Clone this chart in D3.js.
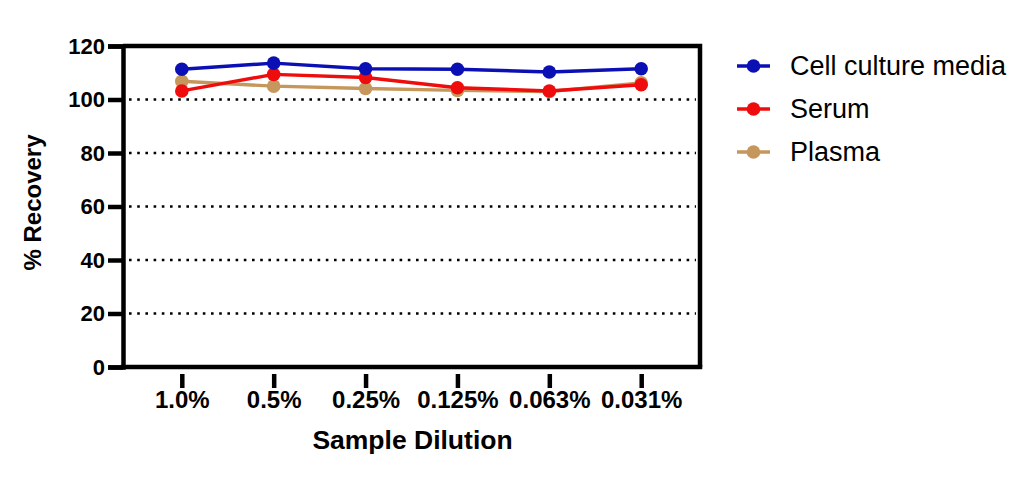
<!DOCTYPE html>
<html lang="en">
  <head>
    <meta charset="UTF-8" />
    <title>% Recovery by Sample Dilution</title>
    <script src="https://d3js.org/d3.v7.min.js"></script>
    <style>
      html,
      body {
        margin: 0;
        padding: 0;
        background-color: #ffffff;
        font-family: "Liberation Sans", Arial, sans-serif;
      }
      .tick-label {
        font-family: "Liberation Sans", Arial, sans-serif;
        font-weight: bold;
        fill: #000;
      }
      .y-label {
        font-size: 22px;
      }
      .x-label {
        font-size: 24px;
      }
      .axis-title {
        font-family: "Liberation Sans", Arial, sans-serif;
        font-weight: bold;
        fill: #000;
      }
      .legend-item text {
        font-family: "Liberation Sans", Arial, sans-serif;
        font-size: 27px;
        fill: #000;
      }
    </style>
  </head>
  <body>
    <svg id="chart"></svg>

    <script>
      // Chart data
      const dilutions = ["1.0%", "0.5%", "0.25%", "0.125%", "0.063%", "0.031%"];
      const cellCultureMedia = [111.3, 113.6, 111.5, 111.3, 110.3, 111.5];
      const serum = [103.2, 109.4, 108.2, 104.4, 103.2, 105.5];
      const plasma = [106.8, 105.0, 104.1, 103.4, 103.0, 106.2];
      const yTicks = [0, 20, 40, 60, 80, 100, 120];

      const seriesNames = ["Cell culture media", "Serum", "Plasma"];
      const seriesValues = [cellCultureMedia, serum, plasma];
      const colors = ["#0b10b5", "#ee0c0c", "#c6975c"];

      // Dimensions
      const totalWidth = 1031;
      const totalHeight = 480;
      const margin = { top: 46, right: 331, bottom: 113, left: 123 };
      const width = totalWidth - margin.left - margin.right;
      const height = totalHeight - margin.top - margin.bottom;

      const svgRoot = d3
        .select("#chart")
        .attr("width", totalWidth)
        .attr("height", totalHeight);

      const svg = svgRoot
        .append("g")
        .attr("transform", `translate(${margin.left},${margin.top})`);

      // Scales
      const xScale = d3.scalePoint().domain(dilutions).range([0, width]).padding(0.64);
      const yScale = d3.scaleLinear().domain([0, 120]).range([height, 0]);

      // Dotted grid lines
      svg
        .append("g")
        .selectAll("line")
        .data(yTicks.filter((d) => d > 0 && d < 120))
        .enter()
        .append("line")
        .attr("x1", 6)
        .attr("x2", width - 4)
        .attr("y1", (d) => yScale(d))
        .attr("y2", (d) => yScale(d))
        .attr("stroke", "#000")
        .attr("stroke-width", 2.6)
        .attr("stroke-dasharray", "2.6,5.6");

      // Frame: top and right borders
      svg
        .append("path")
        .attr("d", `M0,${yScale(120)}H${width}V${yScale(0)}`)
        .attr("fill", "none")
        .attr("stroke", "#000")
        .attr("stroke-width", 4.5);

      // Y axis
      const yAxis = svg
        .append("g")
        .call(d3.axisLeft(yScale).tickValues(yTicks).tickSize(15).tickPadding(3));
      yAxis.attr("font-family", null).attr("font-size", null);
      yAxis.select(".domain").attr("stroke-width", 4.5);
      yAxis.selectAll(".tick line").attr("stroke-width", 4.5);
      yAxis.selectAll(".tick text").attr("class", "tick-label y-label");

      // Bottom border (x axis line)
      svg
        .append("line")
        .attr("x1", -2.25)
        .attr("x2", width + 2.25)
        .attr("y1", yScale(0))
        .attr("y2", yScale(0))
        .attr("stroke", "#000")
        .attr("stroke-width", 4.5);

      // X axis ticks, offset below the frame
      const xAxis = svg
        .append("g")
        .attr("transform", `translate(0,${height + 7})`)
        .call(d3.axisBottom(xScale).tickSize(14).tickPadding(3));
      xAxis.attr("font-family", null).attr("font-size", null);
      xAxis.select(".domain").remove();
      xAxis.selectAll(".tick line").attr("stroke-width", 4.5);
      xAxis.selectAll(".tick text").attr("class", "tick-label x-label");

      // Axis titles
      svg
        .append("text")
        .attr("class", "axis-title")
        .attr("text-anchor", "middle")
        .style("font-size", "24px")
        .attr("transform", `translate(${-82},${height / 2 - 4}) rotate(-90)`)
        .text("% Recovery");

      svg
        .append("text")
        .attr("class", "axis-title")
        .attr("text-anchor", "middle")
        .style("font-size", "26.5px")
        .attr("x", width / 2 + 1)
        .attr("y", height + 82)
        .text("Sample Dilution");

      // Lines and markers (plasma drawn first, cell culture media last)
      const line = d3
        .line()
        .x((d, i) => xScale(dilutions[i]))
        .y((d) => yScale(d));

      const drawOrder = [2, 1, 0];
      drawOrder.forEach((s) => {
        const g = svg.append("g");
        g.append("path")
          .datum(seriesValues[s])
          .attr("d", line)
          .attr("fill", "none")
          .attr("stroke", colors[s])
          .attr("stroke-width", 3.4);
        g.selectAll("circle")
          .data(seriesValues[s])
          .enter()
          .append("circle")
          .attr("cx", (d, i) => xScale(dilutions[i]))
          .attr("cy", (d) => yScale(d))
          .attr("r", 6.8)
          .attr("fill", colors[s]);
      });

      // Legend
      const legend = svgRoot
        .append("g")
        .attr("transform", "translate(737,66)")
        .selectAll(".legend-item")
        .data(seriesNames)
        .enter()
        .append("g")
        .attr("class", "legend-item")
        .attr("transform", (d, i) => `translate(0,${i * 43})`);

      legend
        .append("line")
        .attr("x1", 0)
        .attr("x2", 33)
        .attr("stroke", (d, i) => colors[i])
        .attr("stroke-width", 3.4);

      legend
        .append("circle")
        .attr("cx", 16.5)
        .attr("r", 6.8)
        .attr("fill", (d, i) => colors[i]);

      legend
        .append("text")
        .attr("x", 53)
        .attr("dy", "0.35em")
        .text((d) => d);
    </script>
  </body>
</html>
